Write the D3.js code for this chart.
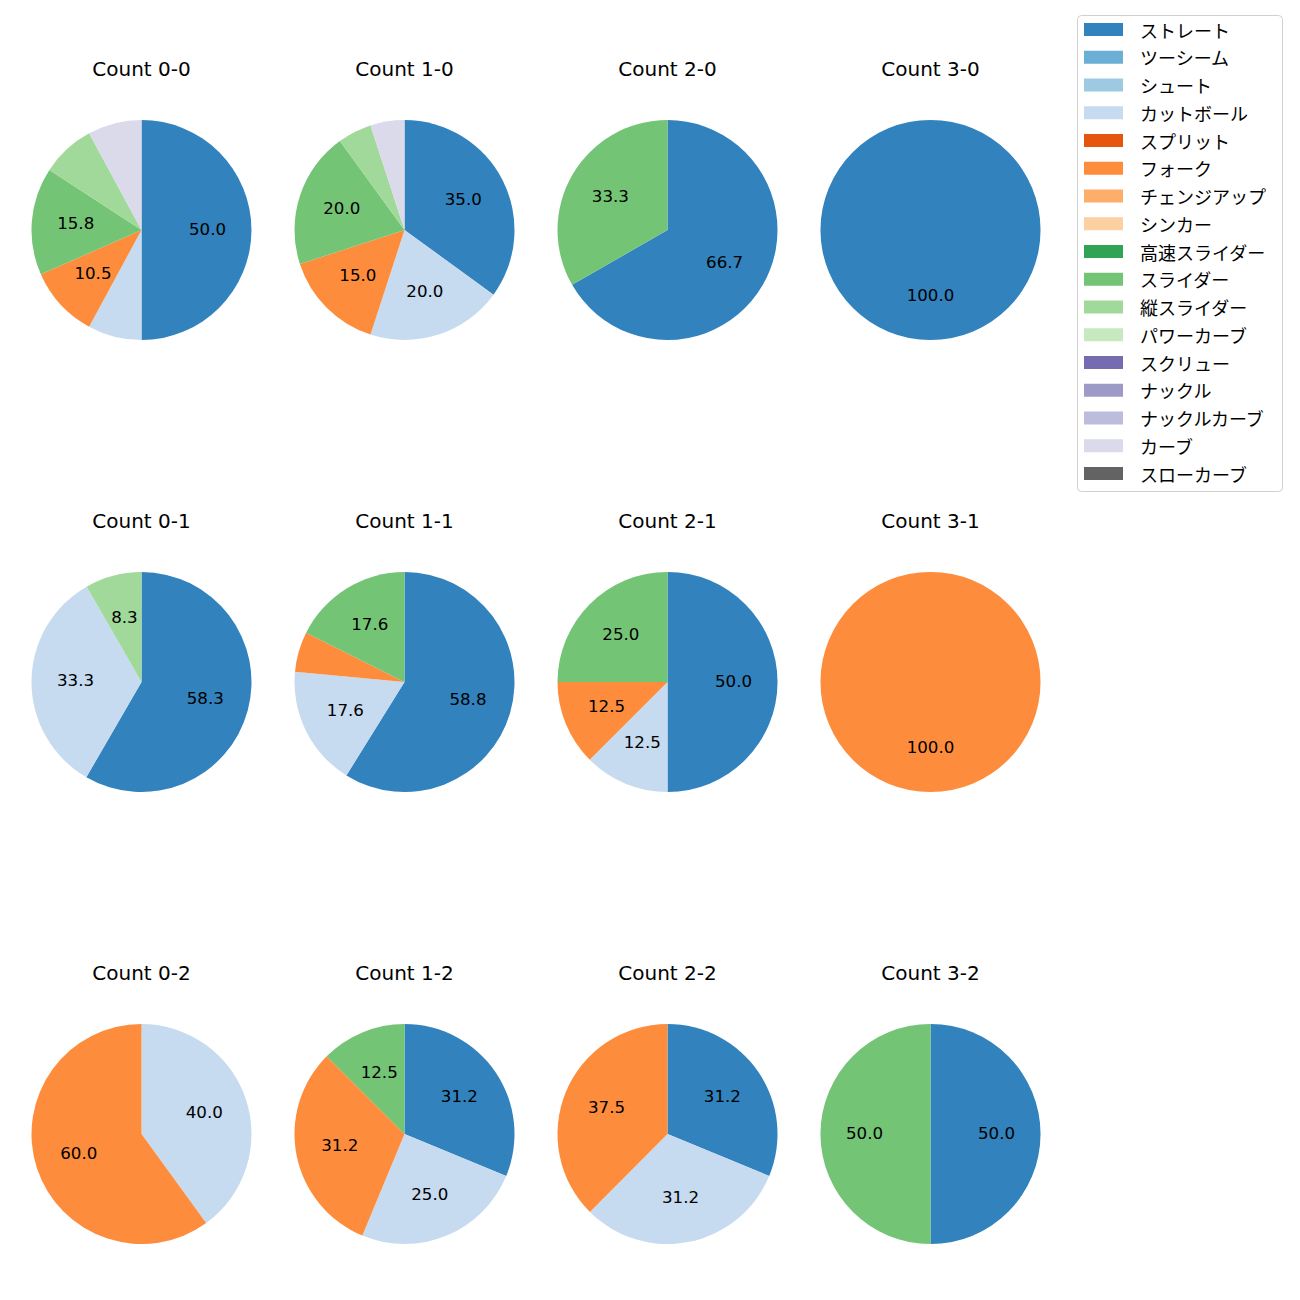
<!DOCTYPE html>
<html>
<head>
<meta charset="utf-8">
<script src="https://cdn.jsdelivr.net/npm/d3@7"></script>
<style>
  html, body { margin: 0; padding: 0; background: #ffffff; }
  svg { display: block; }
  text { font-family: "DejaVu Sans", "Noto Sans CJK JP", sans-serif; fill: #000; }
  text.leg { font-family: "Noto Sans CJK JP", "DejaVu Sans", sans-serif; }
</style>
</head>
<body>
<svg id="chart" width="1300" height="1300"></svg>
<script>
// ---- data ----
const pitchTypes = ["ストレート","ツーシーム","シュート","カットボール","スプリット","フォーク","チェンジアップ","シンカー","高速スライダー","スライダー","縦スライダー","パワーカーブ","スクリュー","ナックル","ナックルカーブ","カーブ","スローカーブ"];
const pitchColors = ["#3182bd","#6baed6","#9ecae1","#c6dbef","#e6550d","#fd8d3c","#fdae6b","#fdd0a2","#31a354","#74c476","#a1d99b","#c7e9c0","#756bb1","#9e9ac8","#bcbddc","#dadaeb","#636363"];

const countTitles = ["Count 0-0","Count 1-0","Count 2-0","Count 3-0",
                     "Count 0-1","Count 1-1","Count 2-1","Count 3-1",
                     "Count 0-2","Count 1-2","Count 2-2","Count 3-2"];
// per-count pitch types and percentage shares (clockwise from 12 o'clock)
const countTypes = [
  ["ストレート","カットボール","フォーク","スライダー","縦スライダー","カーブ"],
  ["ストレート","カットボール","フォーク","スライダー","縦スライダー","カーブ"],
  ["ストレート","スライダー"],
  ["ストレート"],
  ["ストレート","カットボール","縦スライダー"],
  ["ストレート","カットボール","フォーク","スライダー"],
  ["ストレート","カットボール","フォーク","スライダー"],
  ["フォーク"],
  ["カットボール","フォーク"],
  ["ストレート","カットボール","フォーク","スライダー"],
  ["ストレート","カットボール","フォーク"],
  ["ストレート","スライダー"]
];
const countShares = [
  [50.0, 7.9, 10.5, 15.8, 7.9, 7.9],
  [35.0, 20.0, 15.0, 20.0, 5.0, 5.0],
  [66.7, 33.3],
  [100.0],
  [58.3, 33.3, 8.3],
  [58.8, 17.6, 5.9, 17.6],
  [50.0, 12.5, 12.5, 25.0],
  [100.0],
  [40.0, 60.0],
  [31.2, 25.0, 31.2, 12.5],
  [31.2, 31.2, 37.5],
  [50.0, 50.0]
];

// ---- layout ----
const svg = d3.select("#chart");
const R = 110;
const baseFont = 16.67, titleFont = 20, legendFont = 18;
const colX = d3.scalePoint().domain([0,1,2,3]).range([141.5, 930.5]);
const rowY = d3.scalePoint().domain([0,1,2]).range([230, 1134]);
const color = d3.scaleOrdinal().domain(pitchTypes).range(pitchColors);

const pie = d3.pie().sort(null).value(d => d.v).startAngle(0).endAngle(2*Math.PI);
const arc = d3.arc().innerRadius(0).outerRadius(R);
const labelArc = d3.arc().innerRadius(0.6*R).outerRadius(0.6*R);

countTitles.forEach((title, i) => {
  const cx = colX(i % 4), cy = rowY(Math.floor(i / 4));
  const g = svg.append("g").attr("transform", `translate(${cx},${cy})`);
  const data = countTypes[i].map((t, j) => ({t, v: countShares[i][j]}));
  const arcs = pie(data);
  g.selectAll("path").data(arcs).join("path")
    .attr("d", arc)
    .attr("fill", d => color(d.data.t));
  g.selectAll("text.lbl").data(arcs.filter(d => d.data.v >= 8)).join("text")
    .attr("class","lbl")
    .attr("transform", d => { const c = labelArc.centroid(d); return `translate(${c[0]},${c[1] + 0.276*baseFont})`; })
    .attr("text-anchor","middle")
    .style("font-size", baseFont + "px")
    .text(d => d.data.v.toFixed(1));
  g.append("text")
    .attr("x", 0).attr("y", -154.5)
    .attr("text-anchor","middle")
    .style("font-size", titleFont + "px")
    .text(title);
});

// ---- legend ----
const lg = svg.append("g");
lg.append("rect")
  .attr("x", 1077.5).attr("y", 15.5).attr("width", 205).attr("height", 476)
  .attr("rx", 4).attr("fill", "#fff").attr("fill-opacity", 0.8)
  .attr("stroke", "#d0d0d0").attr("stroke-width", 1);
const ly = d3.scalePoint().domain(pitchTypes).range([29.5, 473.5]);
pitchTypes.forEach(t => {
  lg.append("rect").attr("x", 1084).attr("y", ly(t) - 6.5)
    .attr("width", 39).attr("height", 13).attr("fill", color(t));
  lg.append("text").attr("class","leg").attr("x", 1140).attr("y", ly(t))
    .attr("dominant-baseline","central")
    .style("font-size", legendFont + "px")
    .text(t);
});
</script>
</body>
</html>
